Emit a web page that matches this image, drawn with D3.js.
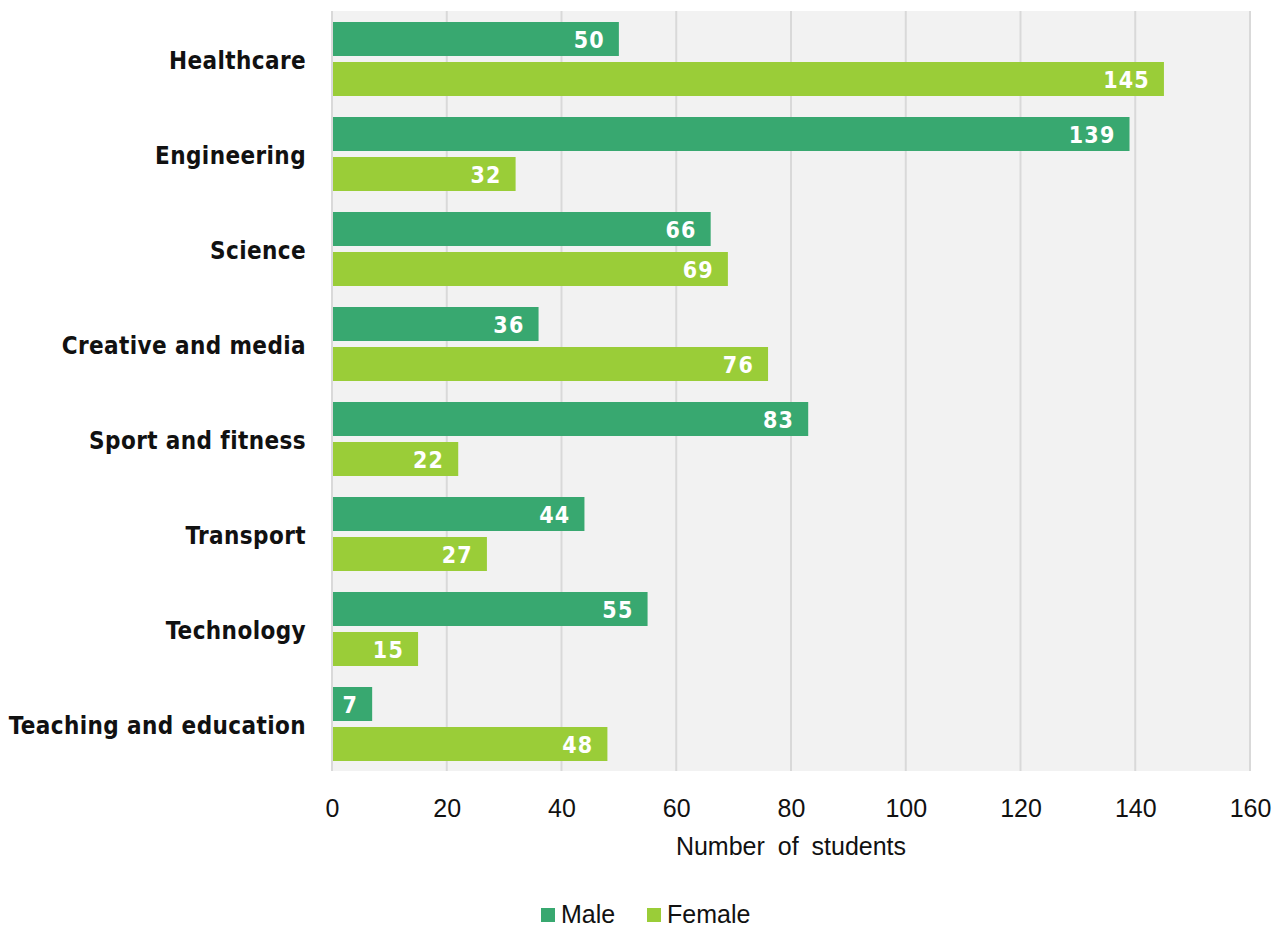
<!DOCTYPE html>
<html>
<head>
<meta charset="utf-8">
<script src="https://cdn.jsdelivr.net/npm/d3@7"></script>
<style>
  html, body { margin: 0; padding: 0; background: #fff; }
  svg { display: block; }
</style>
</head>
<body>
<svg id="chart" width="1282" height="927"></svg>
<script>
// Students per subject area, split by gender
const categories = ["Healthcare", "Engineering", "Science", "Creative and media",
  "Sport and fitness", "Transport", "Technology", "Teaching and education"];
const seriesNames = ["Male", "Female"];
const maleValues = [50, 139, 66, 36, 83, 44, 55, 7];
const femaleValues = [145, 32, 69, 76, 22, 27, 15, 48];
const xTicks = [0, 20, 40, 60, 80, 100, 120, 140, 160];
const axisTitle = "Number of students";

const colors = { Male: "#38A870", Female: "#9ACD38" };
const boldFont = "'DejaVu Sans Condensed', 'DejaVu Sans', sans-serif";
const textFont = "'Liberation Sans', Arial, sans-serif";

const svg = d3.select("#chart");
const plot = { left: 332, right: 1250, top: 11, bottom: 771 };

const x = d3.scaleLinear().domain([0, 160]).range([plot.left, plot.right]);
const y = d3.scaleBand().domain(categories).range([plot.top, plot.bottom]);
// Two bars of 34px with a 6px gap inside each 95px band
const inner = d3.scaleBand().domain(seriesNames).range([11, 85]).paddingInner(6 / 40);

// Plot background
svg.append("rect")
  .attr("x", plot.left).attr("y", plot.top)
  .attr("width", plot.right - plot.left).attr("height", plot.bottom - plot.top)
  .attr("fill", "#F2F2F2");

// Vertical gridlines
svg.append("g").selectAll("line").data(xTicks).join("line")
  .attr("x1", d => x(d)).attr("x2", d => x(d))
  .attr("y1", plot.top).attr("y2", plot.bottom)
  .attr("stroke", "#D9D9D9").attr("stroke-width", 2);

const rows = categories.map((c, i) => ({
  category: c,
  values: [{ key: "Male", value: maleValues[i] }, { key: "Female", value: femaleValues[i] }]
}));

const groups = svg.append("g").selectAll("g").data(rows).join("g")
  .attr("transform", d => `translate(0,${y(d.category)})`);

groups.selectAll("rect").data(d => d.values).join("rect")
  .attr("x", x(0) + 1)
  .attr("y", d => inner(d.key))
  .attr("width", d => x(d.value) - x(0) - 1)
  .attr("height", inner.bandwidth())
  .attr("fill", d => colors[d.key]);

groups.selectAll("text.val").data(d => d.values).join("text")
  .attr("class", "val")
  .attr("x", d => x(d.value) - 14)
  .attr("y", d => inner(d.key) + inner.bandwidth() / 2)
  .attr("dy", "0.39em")
  .attr("text-anchor", "end")
  .attr("fill", "#fff")
  .attr("font-family", boldFont)
  .attr("font-weight", 700)
  .attr("font-size", 23)
  .attr("letter-spacing", 1.2)
  .text(d => d.value);

// Category labels
svg.append("g").selectAll("text").data(categories).join("text")
  .attr("x", 306)
  .attr("y", d => y(d) + y.bandwidth() / 2)
  .attr("dy", "0.43em")
  .attr("text-anchor", "end")
  .attr("font-family", boldFont)
  .attr("font-weight", 700)
  .attr("font-size", 24)
  .attr("letter-spacing", 0.4)
  .attr("fill", "#111")
  .text(d => d);

// X axis tick labels
const xAxis = d3.axisBottom(x).tickValues(xTicks).tickSize(0).tickPadding(0);
const gx = svg.append("g").attr("transform", `translate(0,${plot.bottom})`).call(xAxis);
gx.select(".domain").remove();
gx.selectAll("text")
  .attr("y", 46)
  .attr("dy", "0")
  .attr("font-family", textFont)
  .attr("font-size", 25)
  .attr("fill", "#111");

// Axis title
svg.append("text")
  .attr("x", (plot.left + plot.right) / 2)
  .attr("y", 855)
  .attr("text-anchor", "middle")
  .attr("font-family", textFont)
  .attr("font-size", 25)
  .attr("word-spacing", 6)
  .attr("fill", "#111")
  .text(axisTitle);

// Legend
const legendItems = [{ key: "Male", x: 541 }, { key: "Female", x: 647 }];
const legend = svg.append("g").selectAll("g").data(legendItems).join("g")
  .attr("transform", d => `translate(${d.x},908)`);
legend.append("rect").attr("width", 14).attr("height", 14).attr("fill", d => colors[d.key]);
legend.append("text")
  .attr("x", 20).attr("y", 15)
  .attr("font-family", textFont).attr("font-size", 25).attr("fill", "#111")
  .text(d => d.key);
</script>
</body>
</html>
